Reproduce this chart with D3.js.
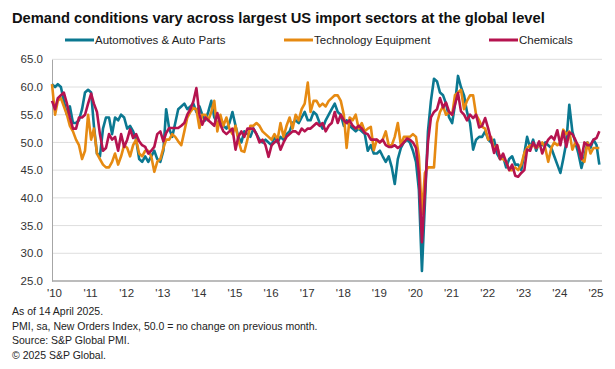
<!DOCTYPE html>
<html><head><meta charset="utf-8">
<script src="https://cdn.jsdelivr.net/npm/d3@7"></script>
<style>body{margin:0;background:#fff;} svg{display:block;font-family:"Liberation Sans",Arial,sans-serif;}</style>
</head><body><svg id="c" width="615" height="369"></svg>
<script>
const titleText = "Demand conditions vary across largest US import sectors at the global level";
const seriesNames = ["Automotives & Auto Parts", "Technology Equipment", "Chemicals"];
const seriesColors = ["#0b7891", "#e68a12", "#b5134f"];
const xTickLabels = ["'10","'11","'12","'13","'14","'15","'16","'17","'18","'19","'20","'21","'22","'23","'24","'25"];
const yTicks = [25, 30, 35, 40, 45, 50, 55, 60, 65];
const footnotes = ["As of 14 April 2025.", "PMI, sa, New Orders Index, 50.0 = no change on previous month.", "Source: S&P Global PMI.", "\u00a9 2025 S&P Global."];

// Monthly values, Jan 2010 .. Mar 2025
const auto = [
 60.5,60.0,60.5,60.0,57.5,55.0,56.5,53.5,53.5,54.0,56.0,59.0,
 59.5,59.0,53.0,48.0,47.5,52.5,54.5,54.5,51.5,54.5,54.0,55.0,
 54.5,52.5,53.0,52.0,50.5,47.0,46.5,47.5,46.5,47.5,48.5,47.0,
 46.5,48.5,56.0,52.5,51.0,53.5,56.0,56.5,57.0,56.0,56.5,57.0,
 55.5,56.5,55.0,54.0,55.5,57.5,54.5,53.5,54.0,53.0,52.5,53.5,
 55.5,53.0,51.0,50.0,52.0,51.5,51.0,52.5,51.5,50.5,50.0,50.5,
 50.0,49.5,51.0,50.0,51.0,50.5,51.5,52.0,53.5,54.0,53.5,54.5,
 55.5,54.0,54.0,55.5,55.0,53.5,52.5,54.0,55.0,56.0,57.0,55.5,
 55.0,53.0,54.0,53.0,52.5,52.0,52.5,52.0,51.5,48.5,49.5,48.0,
 48.0,48.5,47.5,46.5,47.5,45.5,42.5,47.0,49.0,50.0,50.5,50.0,
 48.5,46.5,41.5,26.8,39.0,52.0,57.5,61.5,61.0,59.0,58.5,57.0,
 54.5,53.5,56.8,62.0,60.0,58.5,55.5,53.5,48.7,50.5,51.0,51.0,
 52.0,50.5,50.0,50.5,48.0,47.0,47.5,45.5,47.0,47.5,46.0,46.0,
 45.0,48.0,51.0,49.0,50.5,48.5,50.0,49.5,50.0,49.5,49.0,47.5,
 46.0,44.5,47.0,50.0,56.8,52.0,50.0,48.0,45.4,47.5,50.0,49.0,
 50.5,49.5,46.0
];
const tech = [
 60.5,55.0,57.5,58.0,56.5,55.0,53.0,52.0,50.5,49.5,47.0,48.5,
 55.0,50.5,52.5,48.0,47.0,46.0,45.5,45.5,46.5,48.0,46.0,47.5,
 49.5,49.0,47.5,49.5,50.5,48.0,47.5,48.5,48.5,47.5,44.7,46.5,
 47.0,49.0,50.5,50.5,51.5,51.0,50.2,49.5,52.0,54.5,55.5,56.2,
 56.0,52.6,55.0,55.0,54.0,55.5,57.5,52.0,55.0,53.0,54.5,52.5,
 51.5,53.0,50.5,48.5,48.3,50.5,53.0,53.0,53.5,53.0,52.0,51.5,
 51.0,50.5,51.5,50.5,53.5,51.0,53.0,54.5,52.5,55.0,54.0,56.0,
 57.0,60.8,55.5,57.5,57.5,56.5,57.0,56.5,57.5,58.0,58.5,58.5,
 57.5,55.0,49.0,54.5,54.0,55.0,52.5,53.5,52.0,52.5,52.8,48.6,
 50.5,50.0,50.5,52.0,49.5,49.5,51.0,53.5,49.5,51.0,51.0,51.0,
 51.5,51.0,47.5,37.0,44.5,45.5,45.5,45.5,53.5,55.5,56.5,55.0,
 55.5,55.0,58.5,59.0,59.5,56.0,57.5,58.5,58.5,55.0,54.0,52.8,
 52.5,50.5,51.0,48.7,49.5,47.0,47.0,46.5,45.0,45.0,45.5,45.0,
 46.0,48.1,49.0,49.5,49.5,49.0,49.5,50.0,49.0,46.5,49.0,50.0,
 49.5,50.0,52.3,51.5,52.0,48.7,50.0,49.5,47.0,46.5,50.0,48.0,
 49.0,49.0,49.0
];
const chem = [
 57.5,56.0,58.0,58.5,59.0,57.0,54.5,52.5,52.5,54.5,54.5,55.0,
 57.0,58.8,57.0,55.5,51.5,48.5,49.0,51.5,50.5,51.0,48.5,51.5,
 49.2,50.5,52.4,50.8,51.5,50.2,49.5,49.2,48.0,48.5,49.2,51.5,
 52.0,50.2,51.7,52.6,52.6,52.6,52.6,53.0,53.5,55.0,56.0,57.4,
 59.8,55.0,53.2,54.5,54.0,53.5,53.0,55.3,53.2,52.0,51.5,52.0,
 52.5,48.7,51.0,52.0,51.0,52.5,52.5,52.5,51.5,50.0,50.5,49.5,
 47.4,49.5,50.0,50.5,48.7,50.0,51.0,51.5,52.0,52.0,51.5,52.5,
 52.0,52.5,52.5,53.0,53.5,53.0,53.5,52.0,53.0,53.5,55.5,53.5,
 55.0,54.0,53.5,54.0,53.0,52.5,53.0,52.5,51.7,51.5,50.5,50.5,
 50.5,50.0,50.5,49.5,49.2,49.2,49.5,49.0,49.4,50.0,50.7,50.5,
 50.0,49.0,44.5,32.0,41.0,50.0,54.5,55.5,56.0,58.0,56.3,57.2,
 55.5,55.0,56.8,58.9,55.6,55.0,54.0,55.0,54.4,55.0,52.7,53.0,
 54.4,52.5,50.5,48.1,49.5,47.0,48.0,46.5,45.0,46.0,44.0,43.8,
 44.5,45.0,48.7,48.5,50.0,49.0,50.2,48.0,49.5,50.5,51.1,50.5,
 52.2,49.5,52.0,49.2,51.8,51.5,50.5,49.2,47.0,50.0,49.5,49.5,
 50.5,50.8,52.0
];
const seriesValues = [auto, tech, chem];
const startYear = 2010;

const svg = d3.select("#c");
const mLeft = 52, mRight = 602, mTop = 59.3, mBottom = 281;

const x = d3.scaleTime()
  .domain([new Date(startYear, 0, 1), new Date(startYear + 15, 0, 1)])
  .range([mLeft, 593.5]);
const y = d3.scaleLinear().domain([25, 65]).range([mBottom, mTop]);

// title
const title = svg.append("text").attr("x", 12).attr("y", 23)
  .attr("font-weight", "bold").attr("font-size", 100).attr("fill", "#111").text(titleText);
const tw = title.node().getComputedTextLength();
title.attr("font-size", 100 * 533 / tw);

// gridlines
svg.append("g").selectAll("line").data(yTicks.filter(v => v > 25)).join("line")
  .attr("x1", mLeft).attr("x2", mRight).attr("y1", d => y(d)).attr("y2", d => y(d))
  .attr("stroke", "#dedede").attr("stroke-width", 1);

// y axis
const yAxis = svg.append("g").attr("transform", `translate(${mLeft},0)`)
  .call(d3.axisLeft(y).tickValues(yTicks).tickFormat(d3.format(".1f")).tickSize(0).tickPadding(9));
yAxis.select(".domain").attr("stroke", "#a6a6a6");
yAxis.selectAll("text").attr("font-size", 11.5).attr("fill", "#333").attr("font-family", '"Liberation Sans",Arial,sans-serif');

// x axis
const xAxis = svg.append("g").attr("transform", `translate(0,${mBottom})`)
  .call(d3.axisBottom(x)
    .tickValues(xTickLabels.map((_, i) => new Date(startYear + i, 0, 1)))
    .tickFormat((d, i) => xTickLabels[i]).tickSize(0).tickPadding(8));
xAxis.select(".domain").remove();
xAxis.selectAll("text").attr("font-size", 11.5).attr("fill", "#333").attr("dx", 2).attr("font-family", '"Liberation Sans",Arial,sans-serif');
svg.append("line").attr("x1", mLeft).attr("x2", mRight).attr("y1", mBottom).attr("y2", mBottom)
  .attr("stroke", "#a6a6a6").attr("stroke-width", 1.5);

// lines
const line = d3.line().x((d, i) => x(new Date(startYear, i, 1))).y(d => y(d));
svg.append("g").selectAll("path").data(seriesValues).join("path")
  .attr("d", d => line(d)).attr("fill", "none")
  .attr("stroke", (d, i) => seriesColors[i]).attr("stroke-width", 2.6)
  .attr("stroke-linejoin", "round");

// legend
const legendX = [65, 284, 489];
const lg = svg.append("g").selectAll("g").data(seriesNames).join("g")
  .attr("transform", (d, i) => `translate(${legendX[i]},40)`);
lg.append("line").attr("x1", 0).attr("x2", 29).attr("stroke", (d, i) => seriesColors[i]).attr("stroke-width", 3);
lg.append("text").attr("x", 30).attr("dy", "0.35em").attr("font-size", 11.5).attr("fill", "#222").text(d => d);

// footnotes
svg.append("g").selectAll("text").data(footnotes).join("text")
  .attr("x", 12).attr("y", (d, i) => 315 + i * 14.5)
  .attr("font-size", 10.5).attr("fill", "#222").text(d => d);
</script></body></html>
